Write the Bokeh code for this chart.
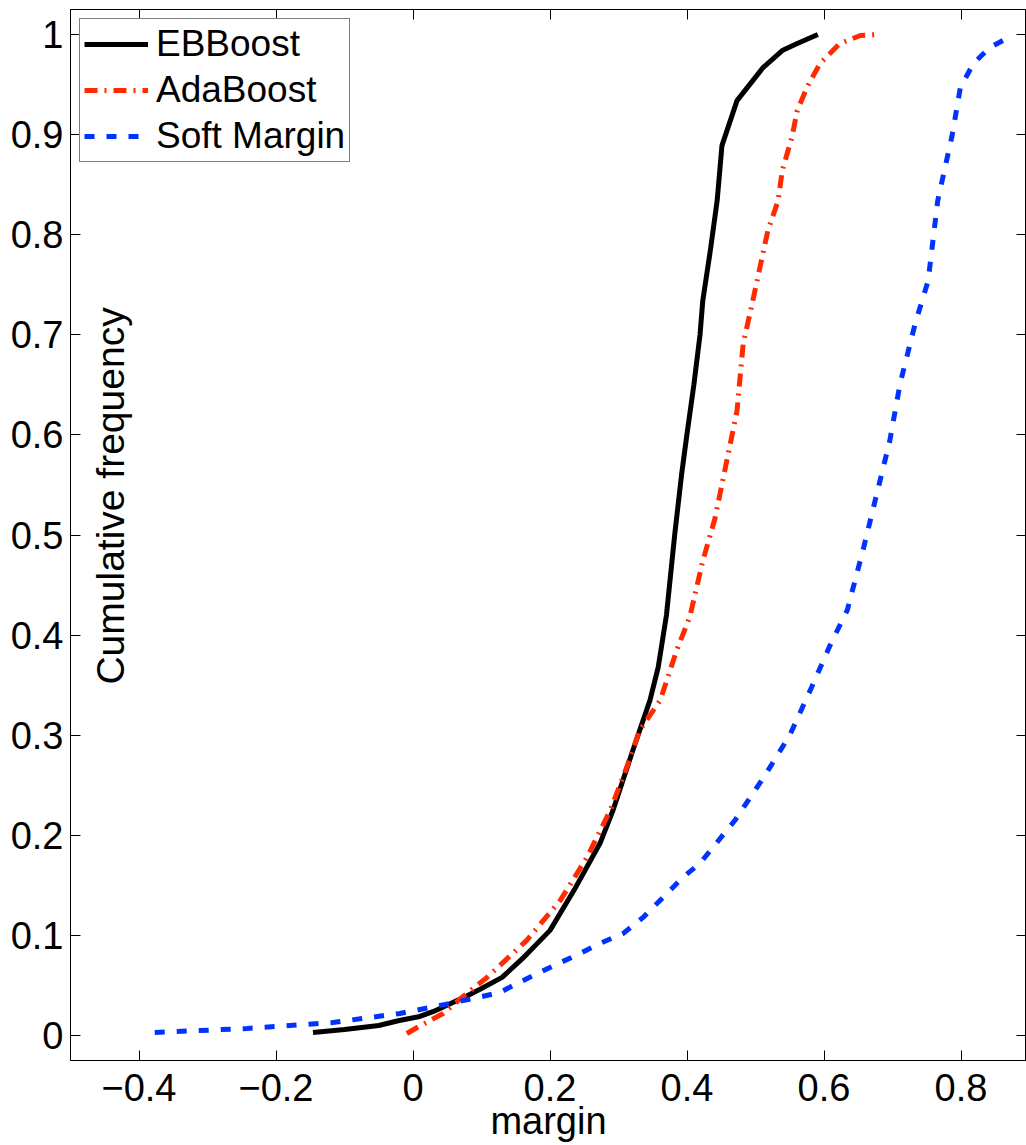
from math import pi
from bokeh.plotting import figure
from bokeh.models import (Range1d, LinearAxis, FixedTicker, CustomJSTickFormatter,
                          Label, Legend, LegendItem)
from bokeh.embed import file_html
from bokeh.resources import INLINE

# ---- data ----
eb_x = [-0.146, -0.10, -0.05, -0.02, 0.01, 0.03, 0.055, 0.08, 0.10, 0.13, 0.16, 0.20,
        0.235, 0.273, 0.292, 0.321, 0.346, 0.358, 0.370, 0.382, 0.392, 0.400, 0.410,
        0.419, 0.423, 0.434, 0.444, 0.451, 0.473, 0.511, 0.539, 0.561, 0.591]
eb_y = [0.003, 0.006, 0.010, 0.015, 0.019, 0.024, 0.032, 0.040, 0.047, 0.058, 0.077, 0.105,
        0.145, 0.192, 0.225, 0.285, 0.335, 0.368, 0.420, 0.500, 0.560, 0.601, 0.650,
        0.700, 0.734, 0.784, 0.834, 0.889, 0.934, 0.967, 0.984, 0.991, 1.0]

ada_x = [-0.009, 0.006, 0.044, 0.075, 0.108, 0.166, 0.215, 0.254, 0.288, 0.312, 0.331,
         0.361, 0.385, 0.404, 0.423, 0.441, 0.458, 0.473, 0.482, 0.496, 0.518, 0.533,
         0.539, 0.553, 0.561, 0.575, 0.594, 0.623, 0.653, 0.677]
ada_y = [0.002, 0.008, 0.022, 0.040, 0.058, 0.095, 0.135, 0.178, 0.225, 0.268, 0.305,
         0.335, 0.385, 0.418, 0.474, 0.517, 0.574, 0.624, 0.691, 0.734, 0.804, 0.834,
         0.864, 0.897, 0.924, 0.947, 0.971, 0.991, 0.999, 1.0]

sm_x = [-0.377, -0.242, -0.117, -0.019, 0.054, 0.088, 0.127, 0.152, 0.2, 0.244, 0.273,
        0.307, 0.336, 0.371, 0.394, 0.419, 0.47, 0.514, 0.55, 0.58, 0.609, 0.634, 0.657,
        0.677, 0.696, 0.711, 0.733, 0.752, 0.766, 0.787, 0.799, 0.818, 0.842, 0.872]
sm_y = [0.003, 0.007, 0.013, 0.022, 0.032, 0.037, 0.043, 0.052, 0.068, 0.082, 0.092,
        0.102, 0.118, 0.142, 0.158, 0.172, 0.215, 0.26, 0.30, 0.345, 0.39, 0.425, 0.485,
        0.541, 0.594, 0.651, 0.711, 0.754, 0.834, 0.899, 0.947, 0.971, 0.987, 0.998]

series_names = ["EBBoost", "AdaBoost", "Soft Margin"]
x_ticks = [-0.4, -0.2, 0, 0.2, 0.4, 0.6, 0.8]
y_ticks = [0, 0.1, 0.2, 0.3, 0.4, 0.5, 0.6, 0.7, 0.8, 0.9, 1]
x_label = "margin"
y_label = "Cumulative frequency"

FONT = "Liberation Sans"

p = figure(width=1026, height=1145, output_backend="svg", toolbar_location=None,
           x_range=Range1d(-0.5, 0.8956), y_range=Range1d(-0.025, 1.025),
           min_border_left=70, min_border_right=0, min_border_top=9, min_border_bottom=85,
           x_axis_location=None, y_axis_location=None)
p.outline_line_color = "black"
p.outline_line_width = 1
p.background_fill_color = "white"
p.border_fill_color = "white"
p.xgrid.grid_line_color = None
p.ygrid.grid_line_color = None

fmt = CustomJSTickFormatter(code="""
if (Math.abs(tick) < 1e-9) return "0";
if (Math.abs(tick - 1) < 1e-9) return "1";
return tick.toFixed(1).replace("-", "\u2212");
""")
empty_fmt = CustomJSTickFormatter(code='return "";')


def style(ax, show):
    ax.major_tick_in = 10
    ax.major_tick_out = 0
    ax.minor_tick_in = 0
    ax.minor_tick_out = 0
    ax.axis_line_color = "black"
    ax.major_tick_line_color = "black"
    ax.major_label_text_font = FONT
    ax.major_label_text_color = "black"
    if show:
        ax.major_label_text_font_size = "38px"
        ax.major_label_standoff = 13
    else:
        ax.major_label_text_font_size = "0px"
        ax.major_label_standoff = 0


bottom = LinearAxis(ticker=FixedTicker(ticks=x_ticks), formatter=fmt)
style(bottom, True)
bottom.axis_label = x_label
bottom.axis_label_text_font = FONT
bottom.axis_label_text_font_size = "38px"
bottom.axis_label_text_font_style = "normal"
bottom.axis_label_text_color = "black"
bottom.axis_label_standoff = -4
p.add_layout(bottom, "below")

left = LinearAxis(ticker=FixedTicker(ticks=y_ticks), formatter=fmt)
style(left, True)
left.major_label_standoff = 7
p.add_layout(left, "left")

top = LinearAxis(ticker=FixedTicker(ticks=x_ticks), formatter=empty_fmt)
style(top, False)
p.add_layout(top, "above")

right = LinearAxis(ticker=FixedTicker(ticks=y_ticks), formatter=empty_fmt)
style(right, False)
p.add_layout(right, "right")

r_eb = p.line(eb_x, eb_y, line_color="black", line_width=5)
r_ada = p.line(ada_x, ada_y, line_color="#ff2a00", line_width=5, line_dash="13 7 2 7")
r_sm = p.line(sm_x, sm_y, line_color="#0033ff", line_width=5, line_dash="10 12")

legend = Legend(items=[LegendItem(label=series_names[0], renderers=[r_eb]),
                       LegendItem(label=series_names[1], renderers=[r_ada]),
                       LegendItem(label=series_names[2], renderers=[r_sm])],
                location="top_left")
legend.label_text_font = FONT
legend.label_text_font_size = "37px"
legend.label_text_color = "black"
legend.border_line_color = "black"
legend.border_line_width = 1
legend.padding = 4
legend.spacing = 4
legend.glyph_width = 64
legend.glyph_height = 42
legend.label_height = 42
legend.label_standoff = 8
legend.margin = 9
legend.background_fill_alpha = 1
p.add_layout(legend)

ylab = Label(x=-0.442, y=0.539, text=y_label, angle=pi / 2,
             text_align="center", text_baseline="alphabetic",
             text_font=FONT, text_font_size="39px", text_color="black")
p.add_layout(ylab)

open("out.html", "w").write(file_html(p, INLINE))
